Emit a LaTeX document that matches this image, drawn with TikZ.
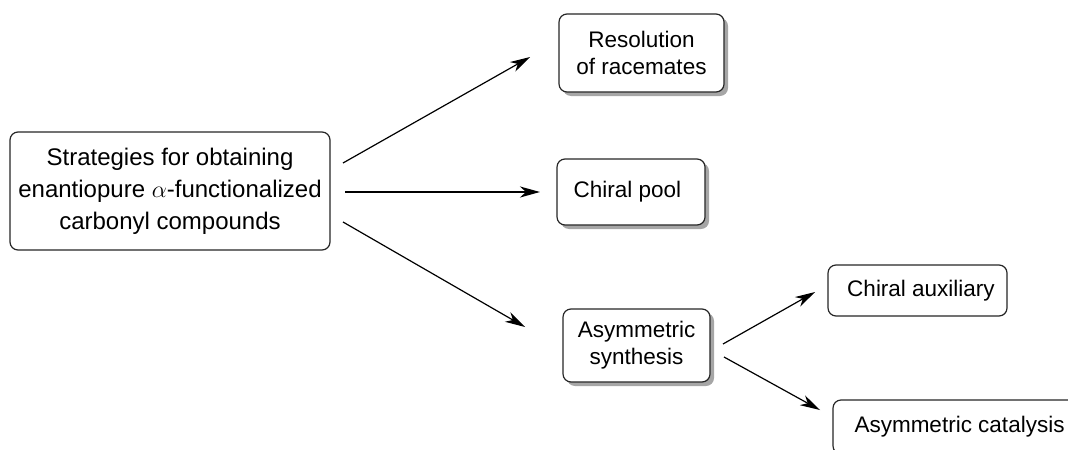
\documentclass[tikz,border=0pt]{standalone}
\usepackage{fontspec}
\setmainfont{Liberation Sans}
\usetikzlibrary{arrows.meta,shadows}

\begin{document}
\begin{tikzpicture}[x=0.5pt,y=-0.5pt,
    box/.style={draw=black!85,line width=0.6pt,rounded corners=4pt,fill=white,align=center,inner sep=0pt,font=\fontsize{11.25}{13.5}\selectfont},
    shbox/.style={box,drop shadow={shadow xshift=2pt,shadow yshift=-2pt,fill=black!35,opacity=1}},
    arr/.style={line width=0.6pt,-{Stealth[length=10pt,width=5.5pt,inset=3pt]}}]
    \path[use as bounding box,clip] (0,0) rectangle (1068,449);
    \node[box,minimum width=160pt,minimum height=59pt,font=\fontsize{12}{16}\selectfont] (strat) at (170,191) {Strategies for obtaining\\enantiopure $\alpha$-functionalized\\carbonyl compounds};
    \node[shbox,minimum width=82.5pt,minimum height=39pt] (resol) at (641.5,53) {Resolution\\of racemates};
    \node[shbox,minimum width=74pt,minimum height=33pt] (pool) at (631,192) {Chiral pool\hspace*{3.5pt}};
    \node[shbox,minimum width=73.5pt,minimum height=36.5pt] (asym) at (636.5,345.5) {Asymmetric\\synthesis};
    \node[box,minimum width=89.5pt,minimum height=25.5pt] (aux) at (917.5,290.5) {\hspace*{3.5pt}Chiral auxiliary};
    \node[box,minimum width=126.5pt,minimum height=27pt] (cat) at (959.5,427) {Asymmetric catalysis};
    \coordinate (s1) at (343,163); \coordinate (e1) at (530,57);
    \coordinate (s2) at (345,192); \coordinate (e2) at (540,192);
    \coordinate (s3) at (343,222); \coordinate (e3) at (525,327);
    \coordinate (s4) at (723,344); \coordinate (e4) at (815,292);
    \coordinate (s5) at (724,357); \coordinate (e5) at (820,410);
    \draw[arr] (s1) -- (e1);
    \draw[arr,line width=1pt] (s2) -- (e2);
    \draw[arr] (s3) -- (e3);
    \draw[arr] (s4) -- (e4);
    \draw[arr] (s5) -- (e5);
\end{tikzpicture}
\end{document}
